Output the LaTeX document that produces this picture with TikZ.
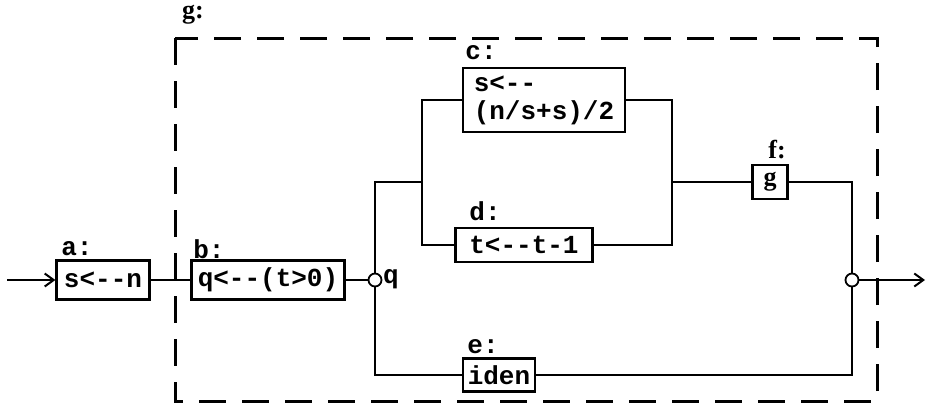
\documentclass[tikz,border=0pt]{standalone}
\usepackage{fontspec}
\setmonofont{Liberation Mono}
\newfontfamily\lblfont{Liberation Serif}
\usetikzlibrary{arrows.meta}

\begin{document}
\begin{tikzpicture}[x=1pt,y=-1pt,
  blk/.style={draw,line width=2.2pt,inner sep=0pt,align=left,
    font=\ttfamily\bfseries\fontsize{26}{28}\selectfont},
  lbl/.style={inner sep=0pt,font=\ttfamily\bfseries\fontsize{26}{28}\selectfont},
  serif/.style={font=\lblfont\bfseries\fontsize{26}{28}\selectfont},
  jn/.style={circle,draw,line width=1.8pt,fill=white,inner sep=0pt,minimum size=13pt},
  wire/.style={line width=2.2pt},
  tip/.style={-{Straight Barb[length=9pt,width=13pt,line width=2pt]}},
  gbox/.style={line width=3pt,dash pattern=on 27pt off 16pt}]
\useasboundingbox (0,0) rectangle (927,405);
% outer dashed box g
\draw[gbox] (175,38) rectangle (877,401);
\node[lbl,serif] (lg) at (193,15) {g:};
% blocks
\node[blk,minimum width=93pt,minimum height=39pt] (a) at (103,280) {s<--n};
\node[blk,minimum width=153pt,minimum height=39pt] (b) at (268,280) {q<--(t>0)};
\node[blk,minimum width=162pt,minimum height=64pt] (c) at (544,100) {s<--\\(n/s+s)/2};
\node[blk,minimum width=137pt,minimum height=34pt] (d) at (524,245) {t<--t-1};
\node[blk,minimum width=72pt,minimum height=33pt] (e) at (499,375) {iden};
\node[blk,serif,minimum width=35pt,minimum height=34pt] (f) at (770,182) {g};
% junctions
\node[jn] (qj) at (375,280) {};
\node[jn] (oj) at (852,280) {};
\coordinate (in) at (7,280);
\coordinate (out) at (925,280);
\coordinate (split) at (422,182);
\coordinate (merge) at (672,182);
% labels
\node[lbl] (la) at (77,249) {a:};
\node[lbl] (lb) at (209,249) {b:};
\node[lbl] (lc) at (481,53) {c:};
\node[lbl] (ld) at (485,211) {d:};
\node[lbl] (le) at (483,347) {e:};
\node[lbl,serif] (lf) at (777,150) {f:};
\node[lbl,anchor=west] (lq) at (383,279) {q};
% connections
\draw[wire,tip] (in) -- (a);
\draw[wire] (a) -- (b);
\draw[wire] (b) -- (qj);
\draw[wire] (qj) |- (split);
\draw[wire] (c.west) -| (split) |- (d.west);
\draw[wire] (c.east) -| (merge) |- (d.east);
\draw[wire] (merge) -- (f);
\draw[wire] (f) -| (oj);
\draw[wire] (qj) |- (e);
\draw[wire] (e) -| (oj);
\draw[wire,tip] (oj) -- (out);
\end{tikzpicture}
\end{document}
